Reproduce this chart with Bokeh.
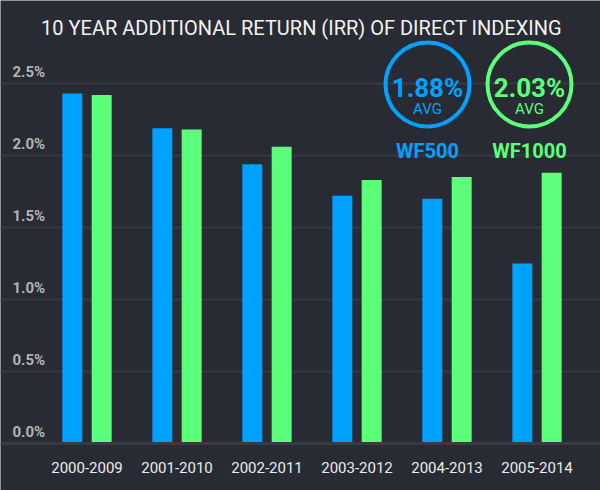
from bokeh.plotting import figure
from bokeh.models import Range1d, ColumnDataSource, Label
from bokeh.transform import dodge
from bokeh.core.properties import value
from bokeh.embed import file_html
from bokeh.resources import INLINE

periods = ["2000-2009", "2001-2010", "2002-2011", "2003-2012", "2004-2013", "2005-2014"]
wf500 = [2.43, 2.19, 1.94, 1.72, 1.70, 1.25]
wf1000 = [2.42, 2.18, 2.06, 1.83, 1.85, 1.88]
y_ticks = [0.0, 0.5, 1.0, 1.5, 2.0, 2.5]
y_tick_labels = ["0.0%", "0.5%", "1.0%", "1.5%", "2.0%", "2.5%"]
series_names = ["WF500", "WF1000"]
avg_labels = ["1.88%", "2.03%"]

BG = "#282b33"
BLUE = "#00a2ff"
GREEN = "#5cff7a"
GRID = "#373a42"
FONT = "Roboto"

W, H = 600, 490
OFF = 0           # page offset of the figure
UNIT_X = 90.0     # px per category
UNIT_Y = 144.0    # px per 1 %
X0_PAGE = 86.5    # centre of first group
Y0_PAGE = 443.0   # zero line
xs = -(X0_PAGE - OFF) / UNIT_X
xe = (OFF + W - X0_PAGE) / UNIT_X
ys = -(OFF + H - Y0_PAGE) / UNIT_Y
ye = (Y0_PAGE - OFF) / UNIT_Y


def px(xpage):
    return (xpage - X0_PAGE) / UNIT_X


def py(ypage):
    return (Y0_PAGE - ypage) / UNIT_Y


p = figure(width=W, height=H, x_range=Range1d(xs, xe), y_range=Range1d(ys, ye),
           output_backend="svg", toolbar_location=None,
           x_axis_location=None, y_axis_location=None,
           min_border=0, background_fill_color=BG, border_fill_color=BG,
           outline_line_color=None)
p.grid.visible = False

# gridlines
p.hspan(y=y_ticks[1:], line_color=GRID, line_width=2)

src = ColumnDataSource(dict(x=list(range(len(periods))), period=periods,
                            wf500=wf500, wf1000=wf1000))
p.vbar(x=dodge("x", -0.163, range=p.x_range), top="wf500", width=0.222,
       bottom=0, source=src, fill_color=BLUE, line_color=None)
p.vbar(x=dodge("x", 0.163, range=p.x_range), top="wf1000", width=0.222,
       bottom=0, source=src, fill_color=GREEN, line_color=None)

# zero line
p.hspan(y=[y_ticks[0]], line_color="#383b43", line_width=3)

# y tick labels
p.text(x=[xs] * len(y_ticks), y=y_ticks, text=y_tick_labels, x_offset=12, y_offset=-3,
       text_font=value(FONT), text_font_style="bold", text_font_size="15px",
       text_color="#b3b3b3", text_align="left", text_baseline="bottom")

# x labels
p.text(x="x", y=0, text="period", source=src, y_offset=24,
       text_font=value(FONT), text_font_size="15px", text_color="#ececec",
       text_align="center", text_baseline="middle")

# title
p.add_layout(Label(x=301 - OFF, y=H - (27 - OFF), x_units="screen", y_units="screen",
                   text="10 YEAR ADDITIONAL RETURN (IRR) OF DIRECT INDEXING",
                   text_font=FONT, text_font_size="20px", text_color="#f2f2f2",
                   text_align="center", text_baseline="middle"))

# average badges
for cx, col, name, avg in [(427, BLUE, series_names[0], avg_labels[0]),
                           (529, GREEN, series_names[1], avg_labels[1])]:
    p.scatter(x=[px(cx)], y=[py(84)], marker="circle", size=84,
              fill_alpha=0, line_color=col, line_width=4)
    p.text(x=[px(cx)], y=[py(87)], text=[avg], text_font=value(FONT),
           text_font_style="bold", text_font_size="26px", text_color=col,
           text_align="center", text_baseline="middle")
    p.text(x=[px(cx)], y=[py(108)], text=["AVG"], text_font=value(FONT),
           text_font_size="15px", text_color=col,
           text_align="center", text_baseline="middle")
    p.text(x=[px(cx)], y=[py(150)], text=[name], text_font=value(FONT),
           text_font_style="bold", text_font_size="20px", text_color=col,
           text_align="center", text_baseline="middle")

open("out.html", "w").write(file_html(p, INLINE))
